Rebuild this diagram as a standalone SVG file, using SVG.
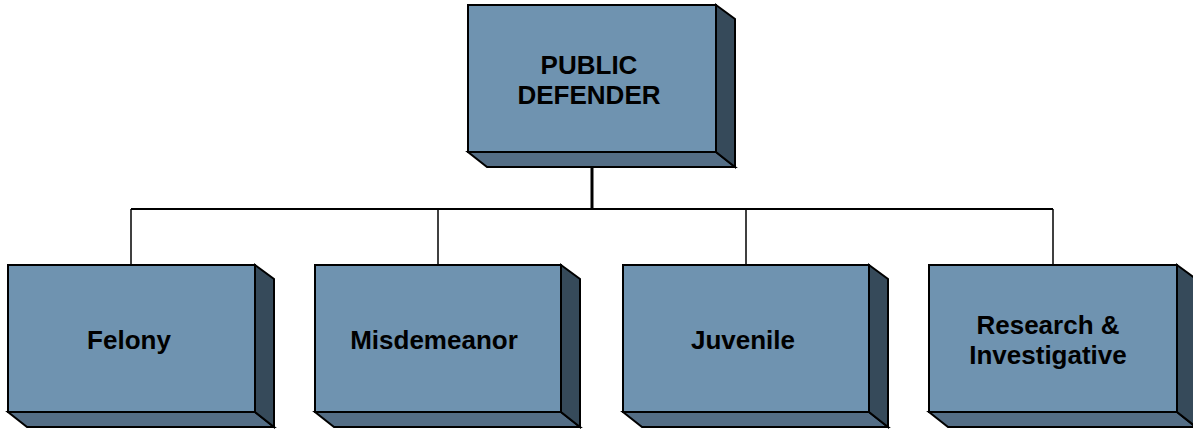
<svg xmlns="http://www.w3.org/2000/svg" width="1193" height="429" viewBox="0 0 1193 429">
  <style>
    .face { fill: #6f93b0; stroke: #000; stroke-width: 2; stroke-linejoin: miter; }
    .bottom { fill: #546e86; stroke: #000; stroke-width: 2; stroke-linejoin: miter; }
    .side { fill: #364a5a; stroke: #000; stroke-width: 2; stroke-linejoin: miter; }
    .label { font-family: "Liberation Sans", Arial, sans-serif; font-weight: bold; font-size: 26px; fill: #000; text-anchor: middle; }
    .link { fill: none; stroke: #000; }
  </style>
  <rect width="1193" height="429" fill="#ffffff"/>

  <!-- connectors -->
  <g id="connectors">
    <line class="link" x1="592" y1="160" x2="592" y2="209" stroke-width="3"/>
    <line class="link" x1="131" y1="209" x2="1053" y2="209" stroke-width="2"/>
    <line class="link" x1="131" y1="209" x2="131" y2="265" stroke-width="1.5"/>
    <line class="link" x1="438" y1="209" x2="438" y2="265" stroke-width="1.5"/>
    <line class="link" x1="746" y1="209" x2="746" y2="265" stroke-width="1.5"/>
    <line class="link" x1="1053" y1="209" x2="1053" y2="265" stroke-width="1.5"/>
  </g>

  <!-- top box -->
  <g id="public-defender">
    <polygon class="bottom" points="468,152 716,152 735,167 487,167"/>
    <polygon class="side" points="716,5 735,19 735,167 716,152"/>
    <rect class="face" x="468" y="5" width="248" height="147"/>
    <text class="label" x="589" y="74">PUBLIC</text>
    <text class="label" x="589" y="104">DEFENDER</text>
  </g>

  <g id="felony">
    <polygon class="bottom" points="8,412 255,412 274,427 27,427"/>
    <polygon class="side" points="255,265 274,279 274,427 255,412"/>
    <rect class="face" x="8" y="265" width="247" height="147"/>
    <text class="label" x="129" y="349">Felony</text>
  </g>

  <g id="misdemeanor">
    <polygon class="bottom" points="315,412 561,412 580,427 334,427"/>
    <polygon class="side" points="561,265 580,279 580,427 561,412"/>
    <rect class="face" x="315" y="265" width="246" height="147"/>
    <text class="label" x="434" y="349">Misdemeanor</text>
  </g>

  <g id="juvenile">
    <polygon class="bottom" points="623,412 869,412 888,427 642,427"/>
    <polygon class="side" points="869,265 888,279 888,427 869,412"/>
    <rect class="face" x="623" y="265" width="246" height="147"/>
    <text class="label" x="743" y="349">Juvenile</text>
  </g>

  <g id="research">
    <polygon class="bottom" points="929,412 1177,412 1196,427 948,427"/>
    <polygon class="side" points="1177,265 1196,279 1196,427 1177,412"/>
    <rect class="face" x="929" y="265" width="248" height="147"/>
    <text class="label" x="1048" y="334">Research &amp;</text>
    <text class="label" x="1048" y="364">Investigative</text>
  </g>
</svg>
